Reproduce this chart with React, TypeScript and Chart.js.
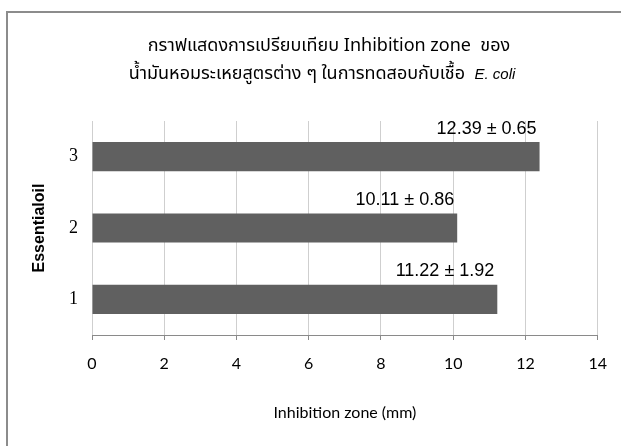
import React, { useEffect, useRef } from "react";
import { Chart, registerables } from "chart.js";

Chart.register(...registerables);

const categories = ["3", "2", "1"];
const means = [12.39, 10.11, 11.22];
const sds = [0.65, 0.86, 1.92];
const xMin = 0;
const xMax = 14;
const xStep = 2;
const titleLine1 = "กราฟแสดงการเปรียบเทียบ Inhibition zone  ของ";
const titleLine2Thai = "น้ำมันหอมระเหยสูตรต่าง ๆ ในการทดสอบกับเชื้อ  ";
const titleLine2Italic = "E. coli";
const xTitle = "Inhibition zone (mm)";
const yTitle = "Essentialoil";

const THAI_FONT = "'Noto Sans Thai', 'Noto Sans Thai Looped', Loma, Garuda, 'Tlwg Typo', 'Liberation Sans', sans-serif";

const titlePlugin = {
  id: "customTitle",
  afterDraw(chart: any) {
    const ctx = chart.ctx;
    const cx = 322;
    ctx.save();
    ctx.fillStyle = "#000";
    ctx.textBaseline = "middle";
    ctx.textAlign = "center";
    const thaiFont = `18px ${THAI_FONT}`;
    ctx.font = thaiFont;
    ctx.fillText(titleLine1, 329, 47);
    ctx.textAlign = "left";
    const itFont = `italic 15px 'Liberation Sans', Arial, sans-serif`;
    ctx.font = thaiFont;
    const w1 = ctx.measureText(titleLine2Thai).width;
    ctx.font = itFont;
    const w2 = ctx.measureText(titleLine2Italic).width;
    const start = cx - (w1 + w2) / 2;
    ctx.font = thaiFont;
    ctx.fillText(titleLine2Thai, start, 75);
    ctx.font = itFont;
    ctx.fillText(titleLine2Italic, start + w1, 75);
    ctx.restore();
  },
};

const labelPlugin = {
  id: "barLabels",
  afterDatasetsDraw(chart: any) {
    const ctx = chart.ctx;
    const meta = chart.getDatasetMeta(0);
    ctx.save();
    ctx.fillStyle = "#000";
    ctx.font = "18px 'Liberation Sans', Arial, sans-serif";
    ctx.textAlign = "right";
    ctx.textBaseline = "alphabetic";
    meta.data.forEach((bar: any, i: number) => {
      const { x, y, height } = bar.getProps(["x", "y", "height"], true);
      const top = y - height / 2;
      const txt = `${means[i].toFixed(2)} ± ${sds[i].toFixed(2)}`;
      ctx.fillText(txt, x - 3, top - 8.5);
    });
    ctx.restore();
  },
};

export default function App() {
  const ref = useRef<HTMLCanvasElement | null>(null);
  useEffect(() => {
    if (!ref.current) return;
    const chart = new Chart(ref.current, {
      type: "bar",
      data: {
        labels: categories,
        datasets: [
          {
            data: means,
            backgroundColor: "#606060",
            borderWidth: 0,
            barPercentage: 0.41,
            categoryPercentage: 1,
          },
        ],
      },
      options: {
        indexAxis: "y",
        animation: false,
        responsive: false,
        maintainAspectRatio: false,
        layout: { padding: { top: 121, right: 22, bottom: 0, left: 0 } },
        plugins: {
          legend: { display: false },
          tooltip: { enabled: false },
          title: { display: false },
        },
        scales: {
          x: {
            type: "linear",
            min: xMin,
            max: xMax,
            ticks: {
              stepSize: xStep,
              color: "#000",
              padding: 14,
              font: { family: "Lato, 'Open Sans', sans-serif", size: 16 },
            },
            grid: {
              color: "#cfcfcf",
              lineWidth: 1,
              tickLength: 5,
              tickColor: "#8a8a8a",
            },
            border: { display: true, color: "#8a8a8a", width: 1 },
            title: {
              display: true,
              text: xTitle,
              color: "#000",
              font: { family: "Lato, 'Open Sans', sans-serif", size: 16 },
              padding: { top: 0, bottom: 24 },
            },
            afterFit(scale: any) {
              scale.height = 111;
            },
          },
          y: {
            type: "category",
            ticks: {
              color: "#000",
              padding: 14,
              font: { family: "'Liberation Serif', 'Times New Roman', serif", size: 18 },
            },
            grid: { display: false, drawTicks: false },
            border: { display: false },
            title: {
              display: true,
              text: yTitle,
              color: "#000",
              font: { family: "'Liberation Sans', Arial, sans-serif", size: 16, weight: "bold" },
              padding: { top: 30, bottom: 0 },
            },
            afterFit(scale: any) {
              scale.width = 92;
            },
          },
        },
      },
      plugins: [titlePlugin, labelPlugin],
    } as any);
    return () => chart.destroy();
  }, []);

  return (
    <div
      style={{
        position: "fixed",
        left: 0,
        top: 0,
        width: 621,
        height: 446,
        overflow: "hidden",
        background: "#fff",
      }}
    >
      <div
        style={{
          position: "absolute",
          left: 6,
          top: 11,
          width: 800,
          height: 600,
          borderLeft: "2px solid #8c8c8c",
          borderTop: "2px solid #8c8c8c",
        }}
      />
      <canvas
        ref={ref}
        width={621}
        height={446}
        style={{ position: "absolute", left: 0, top: 0, width: 621, height: 446 }}
      />
    </div>
  );
}
